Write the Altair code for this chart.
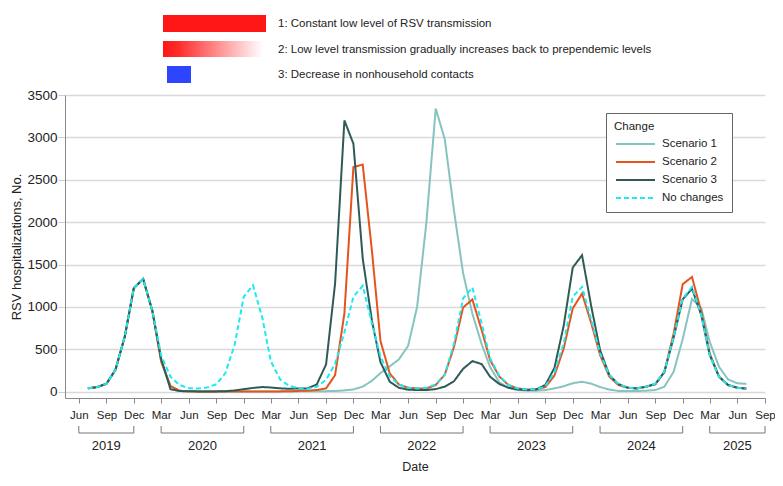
import altair as alt
import pandas as pd

# ---------------- data ----------------
all_months = [f"{y}-{m:02d}-01" for y in range(2019, 2026) for m in range(1, 13)]
months = all_months[6:6 + 73]  # Jul 2019 .. Jul 2025

series_names = ["Scenario 1", "Scenario 2", "Scenario 3", "No changes"]
series_colors = ["#86c4c0", "#e6531d", "#2f5b57", "#1de9f2"]

scenario1 = [40, 55, 94, 259, 651, 1221, 1331, 950,
             360, 67, 10, 4, 3, 3, 3, 3,
             3, 3, 3, 3, 3, 3, 3, 4,
             5, 6, 7, 8, 16, 27, 60, 130,
             220, 300, 380, 540, 1000, 2000, 3340, 2980,
             2130, 1400, 920, 560, 290, 110, 45, 20,
             12, 12, 20, 39, 65, 100, 118, 95,
             55, 25, 10, 8, 8, 12, 20, 59,
             236, 620, 1095, 985, 589, 294, 145, 100,
             92]
scenario2 = [40, 55, 94, 259, 651, 1221, 1331, 950,
             360, 67, 12, 5, 3, 3, 3, 3,
             3, 3, 3, 3, 3, 4, 5, 10,
             12, 20, 39, 196, 923, 2650, 2680, 1650,
             600, 216, 86, 47, 39, 39, 79, 200,
             530, 993, 1088, 726, 373, 177, 79, 39,
             27, 27, 55, 190, 510, 982, 1158, 805,
             432, 177, 79, 47, 39, 59, 90, 236,
             687, 1268, 1354, 942, 452, 177, 79, 47,
             39]
scenario3 = [40, 55, 94, 259, 651, 1221, 1331, 950,
             390, 30, 8, 5, 4, 4, 4, 6,
             15, 30, 45, 55, 50, 40, 35, 39,
             39, 86, 322, 1276, 3200, 2925, 1570, 830,
             350, 118, 47, 24, 20, 20, 31, 59,
             125, 270, 361, 326, 177, 90, 47, 27,
             20, 27, 80, 280, 780, 1464, 1610, 1001,
             491, 196, 90, 47, 39, 59, 90, 230,
             640, 1090, 1215, 903, 432, 177, 79, 47,
             35]
no_changes = [40, 55, 94, 259, 651, 1221, 1331, 950,
              430, 177, 80, 42, 38, 50, 88, 220,
              560, 1120, 1255, 870, 360, 145, 70, 40,
              33, 59, 140, 330, 700, 1120, 1250, 800,
              420, 177, 86, 47, 39, 47, 86, 200,
              570, 1100, 1230, 805, 393, 185, 79, 39,
              27, 27, 65, 230, 570, 1120, 1237, 844,
              452, 196, 90, 47, 39, 59, 95, 240,
              648, 1100, 1237, 903, 432, 177, 79, 47,
              35]

y_ticks = [0, 500, 1000, 1500, 2000, 2500, 3000, 3500]
tick_months = [f"{y}-{m:02d}-01" for y in range(2019, 2026) for m in (3, 6, 9, 12)]
tick_months = [t for t in tick_months if "2019-06-01" <= t <= "2025-09-01"]

years = ["2019", "2020", "2021", "2022", "2023", "2024", "2025"]
year_start = ["2019-06-01", "2020-03-01", "2021-03-01", "2022-03-01", "2023-03-01", "2024-03-01", "2025-03-01"]
year_end = ["2019-12-01", "2020-12-01", "2021-12-01", "2022-12-01", "2023-12-01", "2024-12-01", "2025-09-01"]

notes = ["1: Constant low level of RSV transmission",
         "2: Low level transmission gradually increases back to prependemic levels",
         "3: Decrease in nonhousehold contacts"]

# ---------------- tables ----------------
rows = []
for name, vals in zip(series_names, [scenario1, scenario2, scenario3, no_changes]):
    for d, v in zip(months, vals):
        rows.append({"date": d, "value": v, "series": name})
df = pd.DataFrame(rows)

ys = pd.to_datetime(year_start)
ye = pd.to_datetime(year_end)
mid = ys + (ye - ys) / 2
df_years = pd.DataFrame({
    "year": years,
    "date": year_start,
    "end": year_end,
    "mid": [m.strftime("%Y-%m-%dT%H:%M:%SZ") for m in mid],
})
df_ends = pd.DataFrame({"date": year_start + year_end})


def dt(s):
    t = pd.Timestamp(s)
    return alt.DateTime(year=t.year, month=t.month, date=t.day, utc=True)


FONT = "Liberation Sans"
xscale = alt.Scale(type="utc", domain=[dt("2019-04-16"), dt("2025-09-01")])
yscale = alt.Scale(domain=[-74, 3500], nice=False, zero=False)

xaxis = alt.Axis(values=[dt(t) for t in tick_months],
                 labelExpr="utcFormat(datum.value, '%b')",
                 title="Date", grid=False, tickSize=5, tickColor="#888",
                 domainColor="#888", labelFontSize=11.5, labelPadding=6,
                 labelColor="#222", titleFontSize=12.5, titleFontWeight="normal",
                 titleColor="#222", titlePadding=40, labelFlush=False,
                 labelOverlap=False)
yaxis = alt.Axis(values=y_ticks, format="d", title="RSV hospitalizations, No.",
                 grid=True, gridColor="#d9d9d9", gridWidth=1.5,
                 tickSize=7, tickColor="#cfcfcf", domainColor="#888",
                 labelFontSize=13.5, labelPadding=1, labelColor="#222",
                 titleFontSize=13, titleFontWeight="normal", titleColor="#222",
                 titlePadding=3)

legend = alt.Legend(title="Change", orient="none", legendX=541, legendY=18,
                    direction="vertical", padding=8, strokeColor="#666",
                    fillColor="white", titleFontSize=11.5, titleFontWeight="normal",
                    titleColor="#222", labelFontSize=11.5, labelColor="#222",
                    symbolType="M-3,0H3", symbolSize=169, symbolStrokeWidth=2,
                    symbolOffset=14, labelOffset=19, rowPadding=5, titlePadding=4,
                    cornerRadius=0)

lines = alt.Chart(df).mark_line(strokeWidth=2).encode(
    x=alt.X("date:T", scale=xscale, axis=xaxis),
    y=alt.Y("value:Q", scale=yscale, axis=yaxis),
    color=alt.Color("series:N", scale=alt.Scale(domain=series_names, range=series_colors),
                    legend=legend),
    strokeDash=alt.StrokeDash("series:N",
                              scale=alt.Scale(domain=series_names,
                                              range=[[1, 0], [1, 0], [1, 0], [5, 3]]),
                              legend=legend),
)

bracket_h = alt.Chart(df_years).mark_rule(color="#777", strokeWidth=1).encode(
    x=alt.X("date:T", scale=xscale, axis=xaxis), x2="end:T", y=alt.value(338))
bracket_v = alt.Chart(df_ends).mark_rule(color="#777", strokeWidth=1).encode(
    x=alt.X("date:T", scale=xscale, axis=xaxis), y=alt.value(331), y2=alt.value(338))
year_text = alt.Chart(df_years).mark_text(fontSize=13, color="#222", baseline="middle").encode(
    x=alt.X("mid:T", scale=xscale, axis=xaxis), y=alt.value(351), text="year:N")

one = pd.DataFrame({"k": [0]})
bar1 = alt.Chart(one).mark_rect(color="#ff1616").encode(
    x=alt.value(98), x2=alt.value(201), y=alt.value(-80), y2=alt.value(-63))
grad = alt.LinearGradient(gradient="linear", x1=0, x2=1, y1=0, y2=0,
                          stops=[alt.GradientStop(offset=0, color="#ff1616"),
                                 alt.GradientStop(offset=0.15, color="#ff2a2a"),
                                 alt.GradientStop(offset=0.6, color="#ff9c9c"),
                                 alt.GradientStop(offset=1, color="#ffffff")])
bar2 = alt.Chart(one).mark_rect(fill=grad).encode(
    x=alt.value(98), x2=alt.value(198), y=alt.value(-54), y2=alt.value(-38))
bar3 = alt.Chart(one).mark_rect(color="#2e45ff").encode(
    x=alt.value(102), x2=alt.value(126), y=alt.value(-29), y2=alt.value(-12))

note_layers = []
for txt, yy in zip(notes, [-71, -45.5, -20]):
    note_layers.append(
        alt.Chart(pd.DataFrame({"t": [txt]})).mark_text(
            align="left", baseline="middle", fontSize=11.5, color="#222").encode(
            text="t:N", x=alt.value(213), y=alt.value(yy)))

chart = alt.layer(lines, bracket_h, bracket_v, year_text, bar1, bar2, bar3, *note_layers).properties(
    width=700, height=303,
    autosize=alt.AutoSizeParams(type="none"),
    padding={"left": 57, "top": 87, "right": 10, "bottom": 80},
).configure(font=FONT).configure_view(strokeWidth=0)

chart.save("out.html", embed_options={"renderer": "svg", "actions": False})
